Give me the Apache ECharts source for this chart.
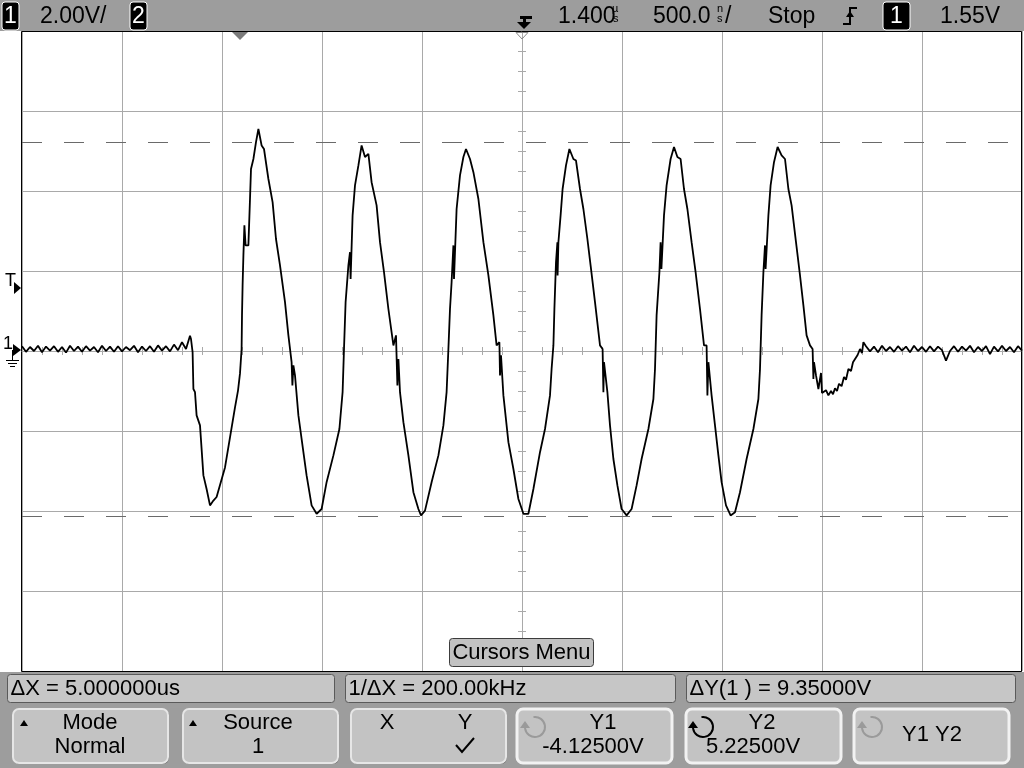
<!DOCTYPE html>
<html>
<head>
<meta charset="utf-8">
<script src="https://cdn.jsdelivr.net/npm/echarts/dist/echarts.min.js"></script>
<style>
html,body{margin:0;padding:0;background:#fff;}
#chart{width:1024px;height:768px;}
</style>
</head>
<body>
<div id="chart"></div>
<script>
// ===== Data (channel 1, 2.00 V/div, 500 ns/div) =====
// time is in microseconds measured from the left edge of the screen (10 div = 5 us)
const preBurstTimeUs = [0.00,0.02,0.04,0.06,0.08,0.10,0.12,0.14,0.16,0.18,
  0.20,0.22,0.24,0.26,0.28,0.30,0.32,0.34,0.36,0.38,
  0.40,0.42,0.44,0.46,0.48,0.50,0.52,0.54,0.56,0.58,
  0.60,0.62,0.64,0.66,0.68,0.70,0.72,0.74,0.76,0.78,
  0.80,0.82,0.84];
const preBurstVolts = [0.12,-0.02,0.10,0.00,0.13,-0.03,0.11,0.01,0.12,-0.02,
  0.10,-0.04,0.13,0.00,0.11,-0.02,0.12,0.01,0.10,-0.03,
  0.13,0.00,0.11,-0.02,0.12,-0.01,0.10,0.02,0.13,-0.03,
  0.11,0.00,0.12,-0.02,0.14,0.01,0.12,-0.01,0.16,0.02,
  0.22,0.05,0.38];

const burstTimeUs = [0.845,0.853,0.857,0.865,0.873,0.890,0.907,0.923,0.940,0.957,
  0.973,1.015,1.040,1.065,1.080,1.090,1.098,1.100,1.103,1.107,
  1.112,1.118,1.132,1.140,1.145,1.157,1.170,1.182,1.198,1.210,
  1.232,1.253,1.270,1.290,1.315,1.332,1.348,1.352,1.357,1.365,
  1.382,1.407,1.423,1.448,1.473,1.498,1.523,1.557,1.587,1.603,
  1.610,1.618,1.632,1.640,1.643,1.653,1.665,1.682,1.698,1.715,
  1.732,1.748,1.773,1.790,1.810,1.832,1.857,1.870,1.877,1.882,
  1.890,1.907,1.932,1.957,1.982,1.995,2.015,2.048,2.082,2.107,
  2.123,2.132,2.140,2.148,2.157,2.160,2.173,2.190,2.207,2.220,
  2.240,2.257,2.282,2.307,2.332,2.357,2.373,2.387,2.390,2.395,
  2.407,2.432,2.457,2.482,2.507,2.532,2.557,2.590,2.615,2.640,
  2.648,2.657,2.662,2.670,2.677,2.678,2.682,2.693,2.703,2.720,
  2.737,2.757,2.770,2.790,2.807,2.827,2.843,2.865,2.890,2.903,
  2.907,2.910,2.927,2.940,2.957,2.977,2.998,3.023,3.048,3.073,
  3.098,3.132,3.157,3.165,3.173,3.187,3.193,3.197,3.210,3.223,
  3.243,3.260,3.277,3.293,3.310,3.327,3.348,3.368,3.390,3.410,
  3.423,3.427,3.432,3.448,3.465,3.482,3.498,3.520,3.543,3.565,
  3.590,3.623,3.657,3.682,3.690,3.698,3.707,3.715,3.718,3.732,
  3.743,3.760,3.778,3.798,3.815,3.832,3.848,3.870,3.890,3.907,
  3.923,3.940,3.953,3.957,3.960,3.970,3.982,3.995,4.000,4.007,
  4.020,4.032,4.045,4.055,4.065,4.075,4.085,4.098,4.110,4.120,
  4.132,4.145,4.155,4.165,4.178,4.190,4.200,4.207];
const burstVolts = [0.30,-0.03,-0.95,-1.03,-1.61,-1.86,-3.11,-3.45,-3.86,-3.74,
  -3.65,-2.91,-2.16,-1.41,-0.99,-0.56,0.05,0.89,1.64,2.39,
  3.14,2.64,2.64,3.80,4.55,4.80,5.22,5.55,5.14,5.05,
  4.30,3.72,2.80,2.14,1.22,0.39,-0.28,-0.86,-0.36,-0.61,
  -1.61,-2.53,-3.11,-3.86,-4.07,-3.95,-3.28,-2.61,-1.95,-1.03,
  0.05,1.22,2.14,2.47,1.80,3.39,4.14,4.64,5.14,4.85,
  4.93,4.22,3.64,2.72,1.97,1.05,0.14,0.39,-0.86,-0.20,
  -1.03,-1.78,-2.61,-3.53,-3.95,-4.11,-3.99,-3.28,-2.61,-1.86,
  -1.03,0.05,1.05,1.72,2.64,1.80,3.55,4.39,4.85,5.05,
  4.80,4.47,3.80,2.72,1.89,0.89,0.14,0.22,-0.61,-0.11,
  -1.11,-2.28,-2.95,-3.70,-4.07,-4.07,-3.45,-2.53,-1.95,-1.11,
  -0.45,0.14,1.05,2.22,2.72,1.89,2.72,3.39,4.05,4.64,
  5.05,4.80,4.76,4.05,3.55,2.80,2.14,1.22,0.14,0.05,
  -1.03,-0.28,-1.03,-1.86,-2.70,-3.36,-3.95,-4.11,-3.95,-3.36,
  -2.70,-1.95,-1.20,-0.45,0.89,1.97,2.72,2.05,3.39,4.14,
  4.80,5.10,4.85,4.80,4.05,3.55,2.72,1.97,1.05,0.14,
  0.14,-1.11,-0.28,-1.11,-1.86,-2.61,-3.28,-3.86,-4.11,-4.03,
  -3.53,-2.70,-1.95,-1.20,-0.45,0.89,1.97,2.64,2.05,3.39,
  4.14,4.72,5.10,4.89,4.80,4.05,3.64,2.72,1.89,1.14,
  0.39,0.14,0.05,-0.70,-0.28,-0.61,-0.95,-0.55,-1.05,-1.03,
  -0.98,-1.11,-1.00,-1.08,-0.93,-1.00,-0.82,-0.88,-0.65,-0.72,
  -0.45,-0.50,-0.28,-0.33,-0.10,0.05,-0.05,0.22];

const postBurstTimeUs = [4.22,4.24,4.26,4.28,4.30,4.32,4.34,4.36,4.38,4.40,
  4.42,4.44,4.46,4.48,4.50,4.52,4.54,4.56,4.58,4.60,
  4.62,4.64,4.66,4.68,4.70,4.72,4.74,4.76,4.78,4.80,
  4.82,4.84,4.86,4.88,4.90,4.92,4.94,4.96,4.98,5.00];
const postBurstVolts = [0.12,-0.01,0.11,-0.03,0.13,0.00,0.10,-0.02,0.12,0.01,
  0.11,-0.03,0.13,0.00,0.10,-0.02,0.12,-0.01,0.11,0.02,
  -0.24,0.00,0.12,-0.02,0.11,0.01,0.13,-0.03,0.10,0.00,
  0.12,-0.08,0.11,-0.01,0.13,0.00,0.10,-0.03,0.12,0.01];

const cursorY1Volts = -4.125;
const cursorY2Volts = 5.225;

// on-screen texts
const topBarTexts = { ch1Scale: '2.00V/', delay: '1.400', timebase: '500.0', run: 'Stop', trigLevel: '1.55V' };
const measureTexts = ['\u0394X = 5.000000us', '1/\u0394X = 200.00kHz', '\u0394Y(1 ) = 9.35000V'];
const softkeyTexts = [['Mode', 'Normal'], ['Source', '1'], ['X', 'Y'], ['Y1', '-4.12500V'], ['Y2', '5.22500V'], ['Y1 Y2']];
const menuTitle = 'Cursors Menu';

// ===== build =====
const timeAll = preBurstTimeUs.concat(burstTimeUs, postBurstTimeUs);
const voltAll = preBurstVolts.concat(burstVolts, postBurstVolts);
const traceData = timeAll.map((t, i) => [t, voltAll[i]]);

const FONT = '"Liberation Sans", Arial, sans-serif';
function txt(s, x, y, size, align, fill, extra) {
  return Object.assign({
    type: 'text', x: x, y: y, z: 60,
    style: { text: s, fill: fill || '#000', font: size + 'px ' + FONT,
      textAlign: align || 'left', align: align || 'left',
      textVerticalAlign: 'middle', verticalAlign: 'middle' }
  }, extra || {});
}
function rect(x, y, w, h, r, fill, stroke, lw, z) {
  return { type: 'rect', z: z || 50, shape: { x: x, y: y, width: w, height: h, r: r },
    style: { fill: fill, stroke: stroke || null, lineWidth: lw || 0 } };
}
function poly(points, fill, z) {
  return { type: 'polygon', z: z || 60, shape: { points: points }, style: { fill: fill } };
}
function line(points, stroke, lw, z) {
  return { type: 'polyline', z: z || 60, shape: { points: points }, style: { stroke: stroke, lineWidth: lw, fill: null } };
}
function chBox(x, w, label) {
  return [rect(x, 2, w, 28, 3, '#000', '#fff', 1, 55), txt(label, x + w / 2, 16.5, 23, 'center', '#fff')];
}
function rotIcon(cx, cy, color) {
  return [
    { type: 'arc', z: 62, shape: { cx: cx, cy: cy, r: 10, startAngle: -Math.PI * 0.55, endAngle: Math.PI, clockwise: true },
      style: { stroke: color, lineWidth: 2, fill: null } },
    poly([[cx - 15, cy + 1], [cx - 5, cy + 1], [cx - 10, cy - 6]], color, 62)
  ];
}
function softkey(x, w, active) {
  const y = 709, h = 54;
  return [
    rect(x + 1, y + 1, w, h, 6, '#5c5c5c', null, 0, 51),
    rect(x, y, w, h, 6, '#c3c3c3', active ? '#f2f2f2' : '#e6e6e6', active ? 3 : 2, 52)
  ];
}

let g = [];
// top status bar
g.push(rect(0, 0, 1024, 31, 0, '#9d9d9d', null, 0, 40));
g = g.concat(chBox(2, 17, '1'));
g.push(txt(topBarTexts.ch1Scale, 40, 16.5, 23));
g = g.concat(chBox(130, 17, '2'));
// delay icon
g.push(rect(520, 16, 12, 3, 0, '#000', null, 0, 60));
g.push(rect(523, 16, 3, 7, 0, '#000', null, 0, 60));
g.push(poly([[517, 22], [531, 22], [524, 29]], '#000'));
g.push(txt(topBarTexts.delay, 558, 16.5, 23));
g.push(txt('\u00b5', 612, 9, 11));
g.push(txt('s', 613, 19, 11));
g.push(txt(topBarTexts.timebase, 653, 16.5, 23));
g.push(txt('n', 717, 9, 11));
g.push(txt('s', 717, 19, 11));
g.push(txt('/', 725, 16.5, 23));
g.push(txt(topBarTexts.run, 768, 16.5, 23));
// trigger edge symbol
g.push(line([[843, 24], [850, 24], [850, 8], [857, 8]], '#000', 2));
g.push(poly([[846, 17], [854, 17], [850, 11]], '#000'));
g = g.concat(chBox(883, 27, '1'));
g.push(txt(topBarTexts.trigLevel, 940, 16.5, 23));

// plot frame and markers
g.push({ type: 'rect', z: 45, shape: { x: 21.5, y: 31.5, width: 1000, height: 640 }, style: { fill: null, stroke: '#000', lineWidth: 1 } });
g.push(poly([[232, 32], [248, 32], [240, 40]], '#7a7a7a', 46));
g.push(line([[516, 32.5], [528, 32.5], [522, 39], [516, 32.5]], '#8a8a8a', 1, 46));
// left trigger-level and ground markers
g.push(txt('T', 5, 281, 18));
g.push(poly([[14, 282], [21, 288], [14, 294]], '#000'));
g.push(txt('1', 3, 344, 18));
g.push(poly([[13, 344], [21, 350], [13, 356]], '#000'));
g.push(line([[12.5, 350], [12.5, 360]], '#000', 1));
g.push(line([[6, 360.5], [19, 360.5]], '#000', 1));
g.push(line([[8, 363.5], [17, 363.5]], '#000', 1));
g.push(line([[10, 366.5], [15, 366.5]], '#000', 1));

// Cursors Menu title
g.push(rect(449.5, 638.5, 144, 28, 3, '#c2c2c2', '#3c3c3c', 1, 50));
g.push(txt(menuTitle, 521.5, 652.5, 22, 'center'));

// bottom panel
g.push(rect(0, 672, 1024, 96, 0, '#9d9d9d', null, 0, 40));
const boxes = [[7.5, 327], [345.5, 330], [686.5, 329]];
boxes.forEach((b, i) => {
  g.push(rect(b[0], 674.5, b[1], 28, 3, '#c6c6c6', '#5a5a5a', 1, 50));
  g.push(txt(measureTexts[i], b[0] + 3, 689, 22));
});
// soft keys
const keyX = [13, 183, 351, 517, 686, 854];
keyX.forEach((x, i) => { g = g.concat(softkey(x, 155, i >= 3)); });
g.push(poly([[20, 726], [28, 726], [24, 720]], '#000'));
g.push(txt(softkeyTexts[0][0], 90, 723, 22, 'center'));
g.push(txt(softkeyTexts[0][1], 90, 747, 22, 'center'));
g.push(poly([[189, 726], [197, 726], [193, 720]], '#000'));
g.push(txt(softkeyTexts[1][0], 258, 723, 22, 'center'));
g.push(txt(softkeyTexts[1][1], 258, 747, 22, 'center'));
g.push(txt(softkeyTexts[2][0], 387, 723, 22, 'center'));
g.push(txt(softkeyTexts[2][1], 465, 723, 22, 'center'));
g.push(line([[456, 745], [462, 752], [474, 738]], '#000', 2));
g = g.concat(rotIcon(535, 727, '#9a9a9a'));
g.push(txt(softkeyTexts[3][0], 603, 723, 22, 'center'));
g.push(txt(softkeyTexts[3][1], 593, 747, 22, 'center'));
g = g.concat(rotIcon(703, 727, '#000'));
g.push(txt(softkeyTexts[4][0], 762, 723, 22, 'center'));
g.push(txt(softkeyTexts[4][1], 753, 747, 22, 'center'));
g = g.concat(rotIcon(872, 727, '#9a9a9a'));
g.push(txt(softkeyTexts[5][0], 932, 735, 22, 'center'));

const gridColor = '#a9a9a9';
function tickAxisX(inside) {
  return { type: 'value', min: 0, max: 5, interval: 0.1, position: 'bottom',
    axisLine: { show: false, onZero: true, onZeroAxisIndex: 0 },
    axisTick: { show: true, inside: inside, length: 4, lineStyle: { color: gridColor } },
    axisLabel: { show: false }, splitLine: { show: false } };
}
function tickAxisY(inside) {
  return { type: 'value', min: -8, max: 8, interval: 0.5, position: 'left',
    axisLine: { show: false, onZero: true, onZeroAxisIndex: 3 },
    axisTick: { show: true, inside: inside, length: 4, lineStyle: { color: gridColor } },
    axisLabel: { show: false }, splitLine: { show: false } };
}

const option = {
  animation: false,
  backgroundColor: '#ffffff',
  grid: { left: 22, top: 31, width: 1000, height: 640, show: false },
  xAxis: [
    { type: 'value', min: 0, max: 5, interval: 0.5,
      axisLine: { show: false, onZero: false }, axisTick: { show: false }, axisLabel: { show: false },
      splitLine: { show: true, lineStyle: { color: gridColor, width: 1 } } },
    tickAxisX(true),
    tickAxisX(false),
    { type: 'value', min: -2.5, max: 2.5, show: false, axisLine: { onZero: false } }
  ],
  yAxis: [
    { type: 'value', min: -8, max: 8, interval: 2,
      axisLine: { show: false, onZero: false }, axisTick: { show: false }, axisLabel: { show: false },
      splitLine: { show: true, lineStyle: { color: gridColor, width: 1 } } },
    tickAxisY(true),
    tickAxisY(false)
  ],
  series: [{
    type: 'line',
    name: 'CH1',
    data: traceData,
    showSymbol: false,
    symbol: 'none',
    z: 10,
    lineStyle: { color: '#000', width: 1.8 },
    markLine: {
      silent: true, symbol: 'none', z: 5,
      label: { show: false },
      lineStyle: { color: '#6a6a6a', width: 1, type: [20, 22] },
      data: [{ yAxis: cursorY1Volts }, { yAxis: cursorY2Volts }]
    }
  }],
  graphic: { elements: g }
};

const chart = echarts.init(document.getElementById('chart'), null, { renderer: 'canvas' });
chart.setOption(option);
</script>
</body>
</html>
